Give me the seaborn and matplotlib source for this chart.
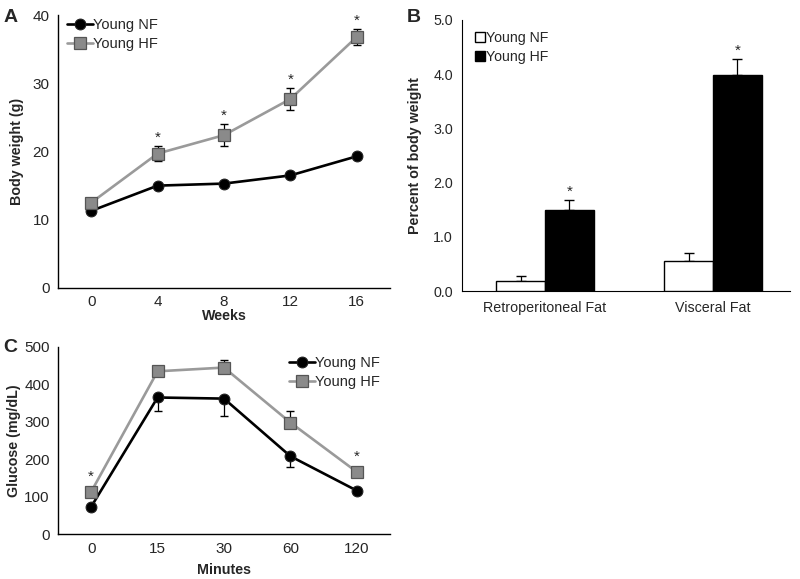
import numpy as np
import pandas as pd
import matplotlib
matplotlib.use('Agg')
import matplotlib.pyplot as plt
import seaborn as sns

# Panel A: body weight over weeks
weeks = ['0', '4', '8', '12', '16']
bw_nf = [11.3, 15.0, 15.3, 16.5, 19.3]
bw_hf = [12.5, 19.7, 22.4, 27.7, 36.8]
bw_hf_err = [0.5, 1.1, 1.6, 1.6, 1.2]
bw_nf_err = [0.3, 0.3, 0.3, 0.3, 0.3]
bw_star = [False, True, True, True, True]

# Panel B: fat pads as percent of body weight
fat_sites = ['Retroperitoneal Fat', 'Visceral Fat']
fat_nf = [0.19, 0.55]
fat_hf = [1.50, 3.98]
fat_nf_err = [0.08, 0.15]
fat_hf_err = [0.17, 0.30]

# Panel C: glucose tolerance
minutes = ['0', '15', '30', '60', '120']
glu_nf = [73, 365, 362, 208, 116]
glu_hf = [113, 435, 445, 298, 166]
glu_nf_err = [5, 35, 47, 28, 6]
glu_hf_err = [6, 12, 20, 30, 8]
glu_star = [True, False, False, False, True]

sns.set_style('white')
plt.rcParams['font.family'] = ['Liberation Sans', 'DejaVu Sans']
plt.rcParams['font.size'] = 10

FS = 10.3
TFS = 11
NF_COL = 'black'
HF_LINE = '#9a9a9a'
HF_FILL = '#8a8a8a'
HF_EDGE = '#555555'

fig = plt.figure(figsize=(8, 5.79), dpi=100)
axA = fig.add_axes([0.0725, 0.5026, 0.415, 0.4714])
axB = fig.add_axes([0.5775, 0.4974, 0.41, 0.4681])
axC = fig.add_axes([0.0725, 0.0777, 0.415, 0.323])


def line_panel(ax, labels, nf, hf, nf_err, hf_err, stars, star_off, err_dir):
    pos = np.arange(len(labels))
    df = pd.DataFrame({'pos': np.concatenate([pos, pos]),
                       'val': nf + hf,
                       'grp': ['Young NF'] * len(nf) + ['Young HF'] * len(hf)})
    # error bars first so markers sit on top
    if err_dir == 'both':
        ax.errorbar(pos, hf, yerr=hf_err, fmt='none', ecolor='black', elinewidth=0.9,
                    capsize=3, zorder=2)
    else:
        ax.errorbar(pos, hf, yerr=[np.zeros(len(hf)), hf_err], fmt='none', ecolor='black',
                    elinewidth=0.9, capsize=3, zorder=2)
        ax.errorbar(pos, nf, yerr=[nf_err, np.zeros(len(nf))], fmt='none', ecolor='black',
                    elinewidth=0.9, capsize=3, zorder=2)
    sns.lineplot(data=df[df.grp == 'Young NF'], x='pos', y='val', ax=ax, color=NF_COL,
                 linewidth=1.9, marker='o', markersize=7.8, markeredgecolor='#222222',
                 markerfacecolor='black', label='Young NF', zorder=3)
    sns.lineplot(data=df[df.grp == 'Young HF'], x='pos', y='val', ax=ax, color=HF_LINE,
                 linewidth=1.9, marker='s', markersize=8, markeredgecolor=HF_EDGE,
                 markeredgewidth=0.9, markerfacecolor=HF_FILL, label='Young HF', zorder=4)
    for p, v, e, s in zip(pos, hf, hf_err, stars):
        if s:
            ax.text(p, v + e + star_off, '*', ha='center', va='bottom', fontsize=11)
    ax.set_xlim(-0.5, len(labels) - 0.5)
    ax.set_xticks(pos)
    ax.set_xticklabels(labels)
    ax.tick_params(axis='both', direction='out', length=3, width=0.8, color='#555555',
                   labelsize=TFS, pad=3)
    for sp in ['top', 'right']:
        ax.spines[sp].set_visible(False)
    for sp in ['left', 'bottom']:
        ax.spines[sp].set_color('black')
        ax.spines[sp].set_linewidth(1)


line_panel(axA, weeks, bw_nf, bw_hf, bw_nf_err, bw_hf_err, bw_star, 0.2, 'both')
axA.set_ylim(0, 40)
axA.set_yticks([0, 10, 20, 30, 40])
axA.tick_params(axis='x', pad=2)
axA.set_xlabel('Weeks', fontweight='bold', fontsize=FS, labelpad=0)
axA.set_ylabel('Body weight (g)', fontweight='bold', fontsize=FS, labelpad=6)
axA.legend(loc='upper left', bbox_to_anchor=(0.0, 1.02), frameon=False, fontsize=10.5,
           handlelength=1.8, handletextpad=0.0, labelspacing=0.35, borderaxespad=0.2)

line_panel(axC, minutes, glu_nf, glu_hf, glu_nf_err, glu_hf_err, glu_star, 15, 'split')
axC.set_ylim(0, 500)
axC.set_yticks([0, 100, 200, 300, 400, 500])
axC.set_xlabel('Minutes', fontweight='bold', fontsize=FS, labelpad=5)
axC.set_ylabel('Glucose (mg/dL)', fontweight='bold', fontsize=FS, labelpad=2)
axC.legend(loc='upper left', bbox_to_anchor=(0.655, 1.02), frameon=False, fontsize=10.5,
           handlelength=1.8, handletextpad=0.0, labelspacing=0.35)

# Panel B bars
dfB = pd.DataFrame({'site': fat_sites * 2,
                    'val': fat_nf + fat_hf,
                    'grp': ['Young NF'] * 2 + ['Young HF'] * 2})
sns.barplot(data=dfB, x='site', y='val', hue='grp', ax=axB,
            palette={'Young NF': 'white', 'Young HF': 'black'},
            edgecolor='black', linewidth=1, width=0.578, errorbar=None, zorder=3)
pos = np.arange(len(fat_sites))
off = 0.578 / 4
axB.errorbar(pos - off, fat_nf, yerr=[np.zeros(2), fat_nf_err], fmt='none', ecolor='black',
             elinewidth=0.9, capsize=3.5, zorder=2)
axB.errorbar(pos + off, fat_hf, yerr=[np.zeros(2), fat_hf_err], fmt='none', ecolor='black',
             elinewidth=0.9, capsize=3.5, zorder=2)
for p, v, e in zip(pos + off, fat_hf, fat_hf_err):
    axB.text(p, v + e + 0.03, '*', ha='center', va='bottom', fontsize=11)
axB.set_ylim(0, 5)
axB.set_yticks([0, 1, 2, 3, 4, 5])
axB.set_yticklabels(['0.0', '1.0', '2.0', '3.0', '4.0', '5.0'])
axB.set_xlim(-0.494, 1.458)
axB.set_xlabel('')
axB.set_ylabel('Percent of body weight', fontweight='bold', fontsize=FS, labelpad=8)
axB.tick_params(axis='y', direction='out', length=3, width=0.8, color='#555555', labelsize=FS)
axB.tick_params(axis='x', length=0, labelsize=FS, pad=7)
for sp in ['top', 'right']:
    axB.spines[sp].set_visible(False)
for sp in ['left', 'bottom']:
    axB.spines[sp].set_color('black')
axB.legend(loc='upper left', bbox_to_anchor=(0.0, 1.005), frameon=False, fontsize=10.2,
           handlelength=0.7, handleheight=0.7, handletextpad=0.1, labelspacing=0.3)

fig.text(0.004, 0.962, 'A', fontsize=14, fontweight='bold')
fig.text(0.508, 0.962, 'B', fontsize=14, fontweight='bold')
fig.text(0.004, 0.392, 'C', fontsize=14, fontweight='bold')

fig.savefig('out.png', dpi=100)
